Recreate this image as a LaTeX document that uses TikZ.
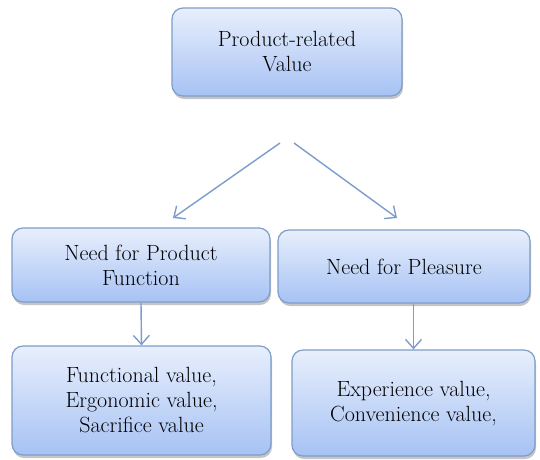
\documentclass[tikz,border=0pt]{standalone}
\usetikzlibrary{arrows.meta, shadows}
\definecolor{boxtop}{HTML}{E8EFFC}
\definecolor{boxbottom}{HTML}{A6C2F4}
\definecolor{boxline}{HTML}{7E9DC8}
\definecolor{arrowblue}{HTML}{7C9DCC}
\tikzset{
  valuebox/.style={rectangle, rounded corners=11pt, draw=boxline, line width=1.2pt,
    top color=boxtop, bottom color=boxbottom, align=center, inner sep=0pt,
    font=\fontsize{22}{25}\selectfont,
    drop shadow={shadow xshift=1pt, shadow yshift=-3pt, fill=black!45, opacity=0.5}},
  flowarrow/.style={draw=arrowblue, line width=1.4pt, -{Straight Barb[length=9pt, width=16pt]}}
}
\begin{document}
\begin{tikzpicture}[x=1pt, y=-1pt]
    \useasboundingbox (0, 0) rectangle (540, 459);
    % 1. 顶层节点
    \node [valuebox, minimum width=230pt, minimum height=88pt] (prodvalue) at (287, 52) {Product-related\\Value};

    % 2. 第二层节点(两种需求)
    \node [valuebox, minimum width=258pt, minimum height=74pt] (needfunc) at (141, 265) {Need for Product\\Function};
    \node [valuebox, minimum width=252pt, minimum height=73pt] (needpleas) at (404, 266.5) {Need for Pleasure};

    % 3. 第三层节点(价值类型)
    \node [valuebox, minimum width=259pt, minimum height=109pt] (funcvalues) at (141.5, 400.5) {Functional value,\\Ergonomic value,\\Sacrifice value};
    \node [valuebox, minimum width=243pt, minimum height=106pt] (expvalues) at (413.5, 403) {Experience value,\\Convenience value,};

    % 4. 分叉箭头的起止点
    \coordinate (splitL) at (280, 143);
    \coordinate (splitR) at (294, 143);
    \coordinate (endL) at (173, 218);
    \coordinate (endR) at (397, 218);
    \draw [flowarrow] (splitL) -- (endL);
    \draw [flowarrow] (splitR) -- (endR);

    % 5. 竖直箭头
    \draw [flowarrow] (needfunc.south) -- (funcvalues.north);
    \draw [flowarrow] (expvalues.north |- needpleas.south) -- (expvalues.north);
\end{tikzpicture}
\end{document}
